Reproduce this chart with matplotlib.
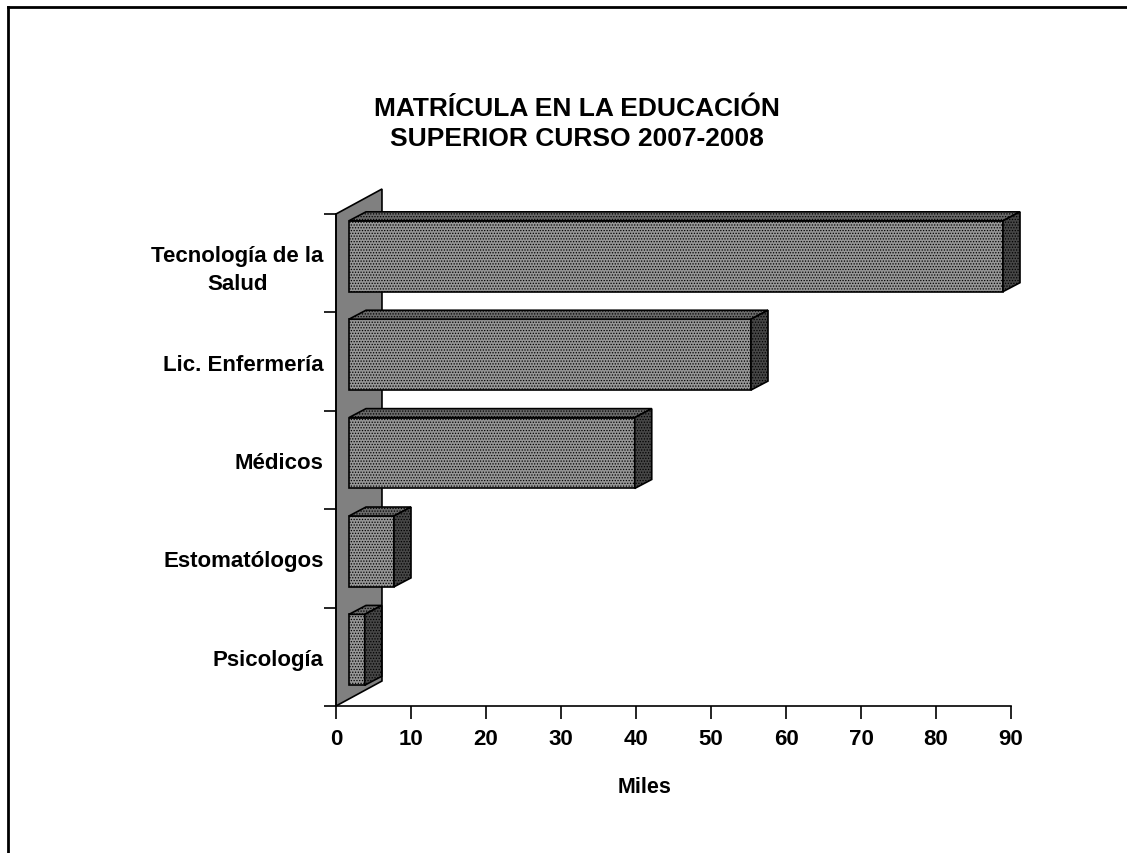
import matplotlib
matplotlib.use('Agg')
import matplotlib.pyplot as plt
from matplotlib.patches import Polygon
import numpy as np

# datos (miles de estudiantes)
categorias = ['Psicología', 'Estomatólogos', 'Médicos', 'Lic. Enfermería',
              'Tecnología de la\nSalud']
valores = [2.1, 6.0, 38.1, 53.6, 87.2]
xticks = list(range(0, 100, 10))

titulo = 'MATRÍCULA EN LA EDUCACIÓN\nSUPERIOR CURSO 2007-2008'
xlabel = 'Miles'

plt.rcParams['font.family'] = ['Liberation Sans', 'DejaVu Sans']
plt.rcParams['font.weight'] = 'bold'
plt.rcParams['hatch.linewidth'] = 0.6

# efecto 3D (en unidades de datos)
BAR_DX, BAR_DY = 1.73, 0.071     # plano frontal de las barras
DEP_DX, DEP_DY = 2.27, 0.091     # profundidad de la barra
WALL_DX, WALL_DY = 6.13, 0.254   # profundidad de la pared
ALTO = 0.72

fig = plt.figure(figsize=(11.27, 8.54), dpi=100)
ax = fig.add_axes([336 / 1127, 1 - 707 / 854, 675 / 1127, 492 / 854])

ax.set_xlim(0, 90)
ax.set_ylim(-0.5, len(categorias) - 0.5)

# pared gris
y0, y1 = -0.5, len(categorias) - 0.5
pared = Polygon([(0, y0), (WALL_DX, y0 + WALL_DY), (WALL_DX, y1 + WALL_DY), (0, y1)],
                closed=True, facecolor='#808080', edgecolor='black', lw=1.2,
                clip_on=False, zorder=1)
ax.add_patch(pared)

ypos = np.arange(len(categorias))
barras = ax.barh(ypos + BAR_DY, valores, height=ALTO, left=BAR_DX,
                 color='#969696', edgecolor='black', hatch='......', lw=1.2,
                 clip_on=False, zorder=3)

for b in barras:
    x0, yb = b.get_x(), b.get_y()
    x1 = x0 + b.get_width()
    yt = yb + b.get_height()
    tapa = Polygon([(x0, yt), (x0 + DEP_DX, yt + DEP_DY), (x1 + DEP_DX, yt + DEP_DY), (x1, yt)],
                   closed=True, facecolor='#6a6a6a', edgecolor='black', hatch='......',
                   lw=1.2, clip_on=False, zorder=3)
    lado = Polygon([(x1, yb), (x1 + DEP_DX, yb + DEP_DY), (x1 + DEP_DX, yt + DEP_DY), (x1, yt)],
                   closed=True, facecolor='#464646', edgecolor='black', hatch='......',
                   lw=1.2, clip_on=False, zorder=3)
    ax.add_patch(tapa)
    ax.add_patch(lado)

ax.spines['top'].set_visible(False)
ax.spines['right'].set_visible(False)
ax.spines['left'].set_linewidth(1.2)
ax.spines['bottom'].set_linewidth(1.2)
ax.spines['left'].set_zorder(2)

ax.set_xticks(xticks)
ax.tick_params(axis='x', direction='out', length=9, width=1.2, labelsize=16, pad=7)
ax.set_yticks(ypos)
ax.set_yticklabels(categorias, ha='right', ma='center')
ax.tick_params(axis='y', which='major', length=0, labelsize=16, pad=9)
ax.set_yticks(np.arange(-0.5, len(categorias)), minor=True)
ax.tick_params(axis='y', which='minor', direction='out', length=9, width=1.2)
for t in ax.get_yticklabels():
    t.set_linespacing(1.45)

ax.set_xlabel(xlabel, fontsize=15.5, fontweight='bold')
ax.xaxis.set_label_coords(309 / 675, -70 / 492)

fig.text(0.512, 1 - 124 / 854, titulo, ha='center', va='center', fontsize=19,
         fontweight='bold', linespacing=1.35)

# borde del grafico
fig.add_artist(plt.Line2D([8 / 1127, 8 / 1127], [0, 1 - 8 / 854], color='black', lw=2,
                          transform=fig.transFigure))
fig.add_artist(plt.Line2D([8 / 1127, 1], [1 - 8 / 854, 1 - 8 / 854], color='black', lw=2,
                          transform=fig.transFigure))

fig.savefig('out.png', dpi=100)
